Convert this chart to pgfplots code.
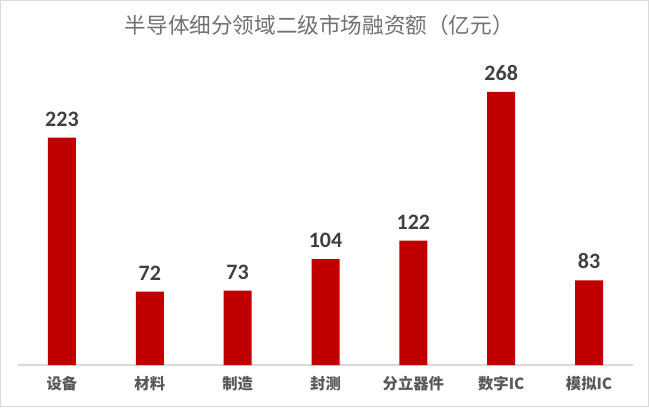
\documentclass[border=0pt]{standalone}
\usepackage{pgfplots}
\pgfplotsset{compat=1.18}
\usepackage{fontspec}
\setmainfont{Carlito}
\newfontfamily\cjk{Noto Sans CJK SC}
\definecolor{barred}{HTML}{C00000}
\definecolor{frame}{HTML}{D9D9D9}
\definecolor{titlegray}{HTML}{707070}
\definecolor{ticgray}{HTML}{595959}
\definecolor{labgray}{HTML}{404040}
\begin{document}
\begin{tikzpicture}
\draw[frame, line width=1pt, fill=white] (0.5pt,0.5pt) rectangle (486.25pt,304.75pt);
\node[titlegray, font=\cjk\fontsize{16.2}{18}\selectfont] at (239.5pt,286pt) {半导体细分领域二级市场融资额（亿元）};
\begin{axis}[
  at={(13.5pt,31.5pt)}, anchor=south west,
  scale only axis,
  width=461.25pt, height=229.3pt,
  xmin=-0.5, xmax=6.5, ymin=0, ymax=300,
  axis y line=none,
  axis x line*=bottom,
  x axis line style={frame, line width=1pt, -},
  xtick=data,
  xticklabels={设备,材料,制造,封测,分立器件,数字IC,模拟IC},
  xticklabel style={font=\cjk\bfseries\fontsize{11.5}{13}\selectfont, text=ticgray, yshift=-5pt},
  major tick length=0pt,
  ytick=\empty,
  clip=false,
  /pgf/number format/assume math mode=true,
  nodes near coords,
  every node near coord/.append style={font=\bfseries\fontsize{16.5}{18}\selectfont, text=labgray, yshift=5pt},
]
\addplot[ybar, bar width=21pt, fill=barred, draw=none] coordinates {
(0,223) (1,72) (2,73) (3,104) (4,122) (5,268) (6,83)
};
\end{axis}
\end{tikzpicture}
\end{document}
